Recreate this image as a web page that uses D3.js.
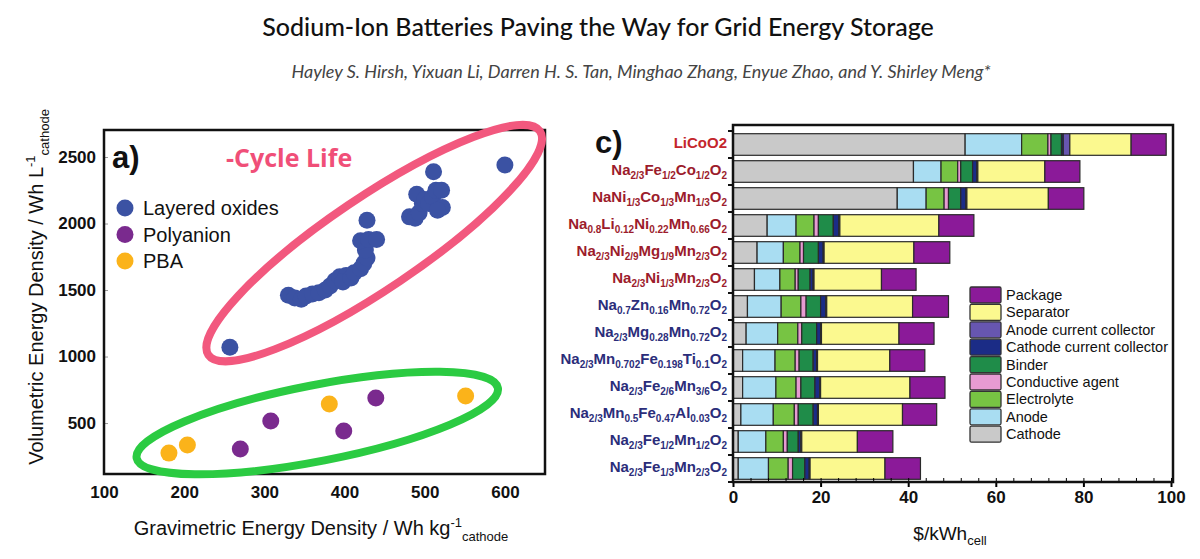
<!DOCTYPE html>
<html>
<head>
<meta charset="utf-8">
<script src="https://cdn.jsdelivr.net/npm/d3@7"></script>
<style>
  body { margin: 0; background: #fff; }
  svg { display: block; }
</style>
</head>
<body>
<svg id="chart"></svg>
<script>
// ---- data : panel a) ----
var layeredOxides = [
  [257,1070],[330,1460],[338,1440],[346,1430],[352,1455],[360,1470],[368,1480],
  [376,1500],[382,1530],[388,1570],[394,1600],[402,1610],[398,1560],[408,1590],
  [412,1630],[420,1660],[424,1700],[428,1740],[426,1800],[420,1870],[430,1880],
  [440,1880],[428,2025],[481,2050],[488,2040],[493,2080],[497,2150],[490,2220],
  [500,2180],[505,2150],[510,2200],[514,2250],[521,2250],[522,2120],[516,2100],
  [511,2390],[600,2440]
];
var polyanion = [[270,305],[308,515],[399,440],[439,688]];
var pba = [[181,274],[204,335],[381,643],[551,703]];
var xTicksA = [100,200,300,400,500,600];
var yTicksA = [500,1000,1500,2000,2500];

// ---- data : panel c) ----
var materials = [
  "LiCoO2",
  "Na{2/3}Fe{1/2}Co{1/2}O{2}",
  "NaNi{1/3}Co{1/3}Mn{1/3}O{2}",
  "Na{0.8}Li{0.12}Ni{0.22}Mn{0.66}O{2}",
  "Na{2/3}Ni{2/9}Mg{1/9}Mn{2/3}O{2}",
  "Na{2/3}Ni{1/3}Mn{2/3}O{2}",
  "Na{0.7}Zn{0.16}Mn{0.72}O{2}",
  "Na{2/3}Mg{0.28}Mn{0.72}O{2}",
  "Na{2/3}Mn{0.702}Fe{0.198}Ti{0.1}O{2}",
  "Na{2/3}Fe{2/6}Mn{3/6}O{2}",
  "Na{2/3}Mn{0.5}Fe{0.47}Al{0.03}O{2}",
  "Na{2/3}Fe{1/2}Mn{1/2}O{2}",
  "Na{2/3}Fe{1/3}Mn{2/3}O{2}"
];
var labelColors = ["#c4262c","#9c1c2c","#9c1c2c","#9c1c2c","#9c1c2c","#9c1c2c",
  "#2b2d7a","#2b2d7a","#2b2d7a","#2b2d7a","#2b2d7a","#2b2d7a","#2b2d7a"];

var cathode     = [53.0,41.2,37.5, 7.8, 5.5, 4.9, 3.3, 3.0, 2.2, 2.2, 1.8, 1.2, 1.2];
var anode       = [12.9, 6.3, 6.6, 6.6, 6.0, 5.8, 7.7, 7.2, 7.4, 7.6, 7.4, 6.3, 6.9];
var electrolyte = [ 6.0, 3.8, 4.1, 4.1, 3.8, 3.5, 4.5, 4.6, 4.6, 4.6, 4.8, 4.0, 4.5];
var conductive  = [ 0.7, 0.7, 1.0, 1.0, 0.8, 0.7, 1.2, 0.9, 0.9, 1.1, 0.9, 0.9, 1.0];
var binder      = [ 2.4, 2.7, 2.8, 3.4, 3.4, 2.7, 3.3, 3.4, 3.2, 3.2, 3.4, 2.5, 2.8];
var cathodeCC   = [ 0.4, 1.0, 1.2, 1.3, 1.1, 0.7, 1.2, 0.9, 0.8, 1.1, 1.0, 0.6, 1.0];
var anodeCC     = [ 1.5, 0.2, 0.2, 0.2, 0.2, 0.2, 0.2, 0.2, 0.2, 0.2, 0.2, 0.2, 0.2];
var separator   = [14.0,15.3,18.6,22.6,20.5,15.4,19.6,17.7,16.5,20.4,19.2,12.7,17.1];
var pkg         = [ 8.0, 8.0, 8.1, 8.0, 8.2, 7.9, 8.2, 8.0, 8.0, 8.0, 7.8, 8.1, 8.1];

var components = ["Cathode","Anode","Electrolyte","Conductive agent","Binder",
  "Cathode current collector","Anode current collector","Separator","Package"];
var compColors = ["#c9c9c9","#a9ddf2","#77c443","#e79bd2","#1f8c49",
  "#1b2c86","#6756b0","#fbf98f","#8b1a99"];
var xTicksC = [0,20,40,60,80,100];

// ---- setup ----
var W = 1200, H = 559;
var svg = d3.select("#chart").attr("width", W).attr("height", H)
  .style("font-family", "'Liberation Sans', Arial, sans-serif");

svg.append("text")
  .attr("x", 598).attr("y", 36)
  .attr("text-anchor", "middle")
  .style("font-family", "Lato, sans-serif")
  .style("font-size", "25px").style("font-weight", 500)
  .attr("fill", "#111")
  .text("Sodium-Ion Batteries Paving the Way for Grid Energy Storage");

svg.append("text")
  .attr("x", 641).attr("y", 78)
  .attr("text-anchor", "middle")
  .style("font-family", "Lato, sans-serif")
  .style("font-size", "18px").style("font-style", "italic")
  .attr("fill", "#444")
  .text("Hayley S. Hirsh, Yixuan Li, Darren H. S. Tan, Minghao Zhang, Enyue Zhao, and Y. Shirley Meng*");

// ================= panel a) =================
var xA = d3.scaleLinear().domain([100, 650]).range([104, 545]);
var yA = d3.scaleLinear().domain([117, 2703]).range([474, 130]);

var gA = svg.append("g");

gA.append("g")
  .attr("transform", "translate(0,474)")
  .call(d3.axisBottom(xA).tickValues(xTicksA).tickSize(0).tickPadding(12))
  .call(function(g){ g.select(".domain").remove(); })
  .selectAll("text")
  .style("font-size", "17px").style("font-weight", "bold")
  .style("font-family", "'Liberation Sans', Arial, sans-serif").attr("fill", "#111");

gA.append("g")
  .attr("transform", "translate(104,0)")
  .call(d3.axisLeft(yA).tickValues(yTicksA).tickFormat(d3.format("d"))
    .tickSizeInner(-4).tickSizeOuter(0).tickPadding(8))
  .call(function(g){ g.select(".domain").remove(); })
  .call(function(g){ g.selectAll("line").attr("stroke", "#999"); })
  .selectAll("text")
  .style("font-size", "17px").style("font-weight", "bold")
  .style("font-family", "'Liberation Sans', Arial, sans-serif").attr("fill", "#111");

gA.append("rect")
  .attr("x", 104).attr("y", 130).attr("width", 441).attr("height", 344)
  .attr("fill", "none").attr("stroke", "#111").attr("stroke-width", 2.5);

// ellipses
function ring(cx, cy, rx, ry, ang, color) {
  var px = xA(cx), py = yA(cy);
  gA.append("ellipse")
    .attr("cx", 0).attr("cy", 0).attr("rx", rx).attr("ry", ry)
    .attr("transform", "translate(" + px + "," + py + ") rotate(" + ang + ")")
    .attr("fill", "none").attr("stroke", color).attr("stroke-width", 8);
}
ring(437, 1853, 200, 46, -34, "#f2587e");
ring(366, 500, 184, 38, -11, "#2bcb42");

function dots(data, color) {
  gA.append("g").selectAll("circle").data(data).enter().append("circle")
    .attr("cx", function(d){ return xA(d[0]); })
    .attr("cy", function(d){ return yA(d[1]); })
    .attr("r", 8.5)
    .attr("fill", color);
}
dots(layeredOxides, "#3b52a3");
dots(polyanion, "#7a2a8e");
dots(pba, "#fbb31a");

gA.append("text").attr("x", 112).attr("y", 168)
  .style("font-size", "31px").style("font-weight", "bold").attr("fill", "#111")
  .text("a)");

gA.append("text").attr("x", 226).attr("y", 167)
  .style("font-family", "'Open Sans', sans-serif")
  .style("font-size", "25px").style("font-weight", "bold").attr("fill", "#f04f78")
  .text("-Cycle Life");

var legA = [["Layered oxides", "#3b52a3"], ["Polyanion", "#7a2a8e"], ["PBA", "#fbb31a"]];
legA.forEach(function(d, i){
  gA.append("circle").attr("cx", 125).attr("cy", 208 + i * 26.5).attr("r", 8.5).attr("fill", d[1]);
  gA.append("text").attr("x", 143).attr("y", 215 + i * 26.5)
    .style("font-size", "20px").attr("fill", "#111").text(d[0]);
});

// axis titles a)
var xlab = gA.append("text").attr("x", 321).attr("y", 535).attr("text-anchor", "middle")
  .style("font-size", "20px").attr("fill", "#111");
xlab.append("tspan").text("Gravimetric Energy Density / Wh kg");
xlab.append("tspan").attr("dy", -8).style("font-size", "13px").text("-1");
xlab.append("tspan").attr("dy", 14).style("font-size", "13px").text("cathode");

var ylab = gA.append("text").attr("transform", "translate(43,287) rotate(-90)")
  .attr("text-anchor", "middle").style("font-size", "20px").attr("fill", "#111");
ylab.append("tspan").text("Volumetric Energy Density / Wh L");
ylab.append("tspan").attr("dy", -8).style("font-size", "13px").text("-1");
ylab.append("tspan").attr("dy", 14).style("font-size", "13px").text("cathode");

// ================= panel c) =================
var xC = d3.scaleLinear().domain([0, 100]).range([733, 1171]);
var yC = d3.scaleBand().domain(materials).range([131, 482]).paddingInner(0.2).paddingOuter(0.1);

var gC = svg.append("g");

var rows = materials.map(function(m, i){
  return {
    name: m,
    "Cathode": cathode[i], "Anode": anode[i], "Electrolyte": electrolyte[i],
    "Conductive agent": conductive[i], "Binder": binder[i],
    "Cathode current collector": cathodeCC[i], "Anode current collector": anodeCC[i],
    "Separator": separator[i], "Package": pkg[i]
  };
});
var stacked = d3.stack().keys(components)(rows);

gC.append("g").selectAll("g").data(stacked).enter().append("g")
  .attr("fill", function(d, i){ return compColors[i]; })
  .selectAll("rect").data(function(d){ return d; }).enter().append("rect")
  .attr("x", function(d){ return xC(d[0]); })
  .attr("y", function(d){ return yC(d.data.name); })
  .attr("width", function(d){ return xC(d[1]) - xC(d[0]); })
  .attr("height", yC.bandwidth())
  .attr("stroke", "#2a2a2a").attr("stroke-width", 1.2);

// x axis c)
gC.append("g")
  .attr("transform", "translate(0,482)")
  .call(d3.axisBottom(xC).tickValues(d3.range(0, 101, 4)).tickSizeInner(-4).tickSizeOuter(0).tickFormat(""))
  .call(function(g){ g.select(".domain").remove(); });
gC.append("g")
  .attr("transform", "translate(0,482)")
  .call(d3.axisBottom(xC).tickValues(xTicksC).tickSizeInner(5).tickSizeOuter(0).tickPadding(4))
  .call(function(g){ g.selectAll("line").attr("stroke-width", 2); })
  .selectAll("text")
  .style("font-size", "17px").style("font-weight", "bold")
  .style("font-family", "'Liberation Sans', Arial, sans-serif").attr("fill", "#111");

// y ticks at band boundaries
gC.append("g").selectAll("line").data(d3.range(materials.length + 1)).enter().append("line")
  .attr("x1", 728).attr("x2", 733)
  .attr("y1", function(i){ return 131 + i * yC.step(); })
  .attr("y2", function(i){ return 131 + i * yC.step(); })
  .attr("stroke", "#111").attr("stroke-width", 2);

gC.append("rect")
  .attr("x", 733).attr("y", 125).attr("width", 440).attr("height", 357)
  .attr("fill", "none").attr("stroke", "#111").attr("stroke-width", 2.5);

// formula labels
function formula(sel, str) {
  var parts = str.split(/(\{[^}]*\})/).filter(function(s){ return s.length; });
  var sub = false;
  parts.forEach(function(p){
    if (p[0] === "{") {
      sel.append("tspan").attr("dy", sub ? 0 : 4).style("font-size", "10px").text(p.slice(1, -1));
      sub = true;
    } else {
      sel.append("tspan").attr("dy", sub ? -4 : 0).text(p);
      sub = false;
    }
  });
}
materials.forEach(function(m, i){
  var t = gC.append("text")
    .attr("x", 727).attr("y", yC(m) + yC.bandwidth() / 2 + 3)
    .attr("text-anchor", "end")
    .style("font-size", "15px").style("font-weight", "bold")
    .attr("fill", labelColors[i]);
  formula(t, m);
});

gC.append("text").attr("x", 595).attr("y", 153)
  .style("font-size", "31px").style("font-weight", "bold").attr("fill", "#111")
  .text("c)");

// legend c)
var legOrder = components.slice().reverse();
legOrder.forEach(function(name, i){
  var ci = components.indexOf(name);
  var y = 287 + i * 17.4;
  gC.append("rect").attr("x", 970).attr("y", y).attr("width", 31).attr("height", 16)
    .attr("rx", 1.5)
    .attr("fill", compColors[ci]).attr("stroke", "#333").attr("stroke-width", 1.3);
  gC.append("text").attr("x", 1006).attr("y", y + 13)
    .style("font-size", "14.5px").attr("fill", "#111").text(name);
});

var xlabC = gC.append("text").attr("x", 950).attr("y", 540).attr("text-anchor", "middle")
  .style("font-size", "19px").attr("fill", "#111");
xlabC.append("tspan").text("$/kWh");
xlabC.append("tspan").attr("dy", 5).style("font-size", "13px").text("cell");
</script>
</body>
</html>
